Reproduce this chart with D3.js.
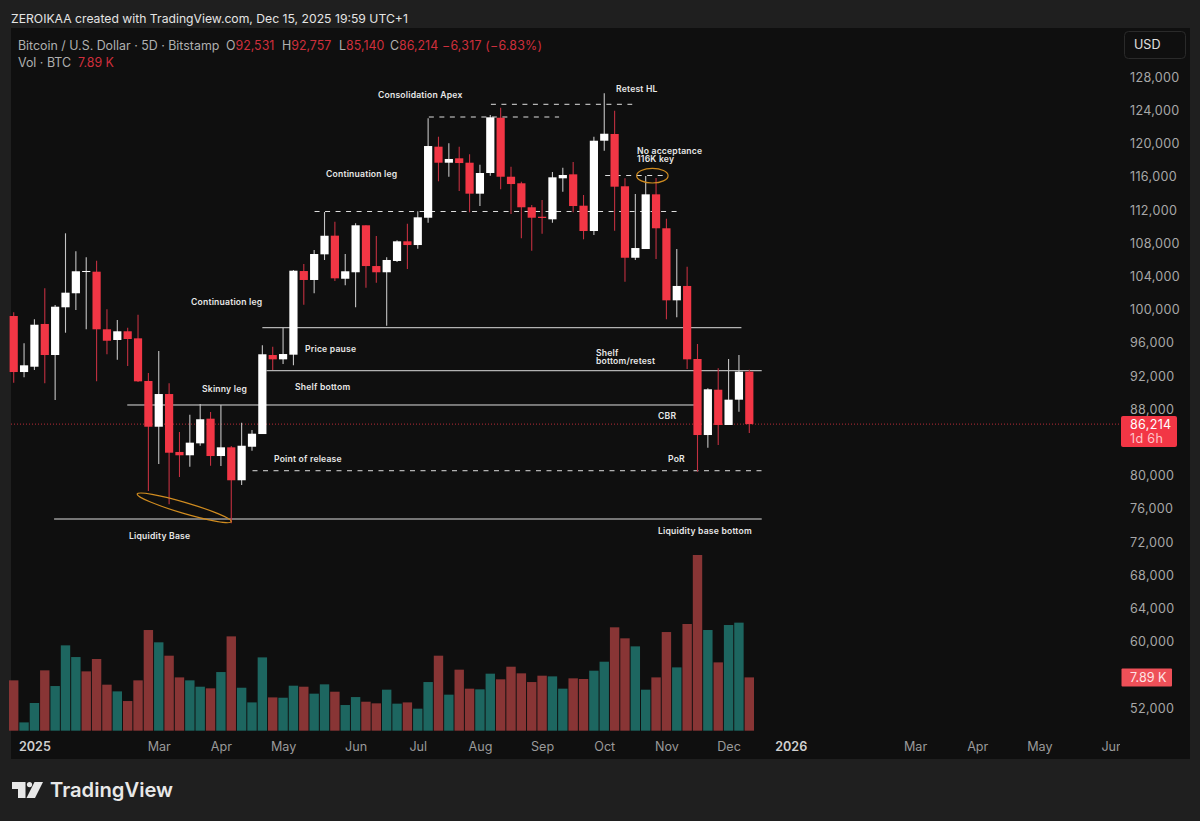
<!DOCTYPE html>
<html>
<head>
<meta charset="utf-8">
<script src="https://cdn.jsdelivr.net/npm/d3@7"></script>
<style>
	html, body {margin: 0; padding: 0; background: #1f1f1f;}
	svg {display: block;}
	text {font-family: Inter, Roboto, "Noto Sans", sans-serif;}
</style>
</head>
<body>
<div id="body"></div>
<script>
//Candles, 5D bars, oldest first
let opens = [99240,92490,93130,98280,94540,100290,101980,104580,104580,97640,96350,97400,96550,91410,85900,89840,82860,82460,83900,86870,82370,83420,79450,83490,85020,94540,94020,94580,104660,103580,106670,108920,103730,104510,110170,105260,104510,105870,108240,107790,111080,119640,117710,118240,117710,113980,116470,123130,116020,115230,112340,111200,110890,115830,116310,112530,109480,120360,121170,114870,106260,107310,113900,109810,101130,102860,94060,84900,90360,86110,89160,92531]
let highs = [99686,95951,98843,102578,100566,109204,107035,106312,105903,100048,98758,97831,99397,92373,95024,91132,85265,87349,88638,87674,88518,83578,86385,85506,95710,95542,97831,104782,105505,107192,111770,110602,106710,110409,110168,108879,106312,108361,110361,111855,123059,120842,120047,119638,118722,117469,123457,124337,117228,115421,112614,113216,116589,117107,117794,113818,120842,126071,123975,115830,113939,116108,115867,110963,107313,105180,95867,90530,92939,94060,94542,92757]
let lows = [91204,91855,92734,91132,89120,97228,99963,97638,91373,94626,93975,93216,91289,78156,81409,76554,79843,81084,83614,81205,81168,74265,78879,83012,85024,92734,93457,93301,100602,101975,105987,103457,102939,100289,102650,103252,98072,105746,104903,107349,110481,115469,116023,114300,111734,112493,116144,114505,111529,108602,107108,109156,110481,114216,111734,108481,108999,119156,109517,103373,105987,107313,106108,98843,99084,92855,80482,83373,83698,86145,87712,85140]
let closes = [92490,93300,98190,94540,100360,102050,104630,104660,97640,96260,97400,96470,91370,85900,89840,82770,82460,83980,86800,82370,83420,79450,83610,85060,94630,94020,94660,104700,103580,106710,108910,103780,104630,110170,105260,104510,105990,108240,107790,111130,119720,117710,118160,117670,113980,116470,123180,116020,115140,112340,111080,111050,115950,116230,112490,109480,120360,121200,114820,106260,107430,113900,109810,101130,102860,94020,84900,90410,86110,89160,92530,86214]

//Volume in thousands of BTC, with the side the bar is coloured by
let volumes = [7.45,1.23,4.10,8.93,6.61,12.63,10.90,8.78,10.61,6.81,5.82,4.39,7.45,14.90,13.08,11.10,7.89,7.45,6.51,6.27,8.68,13.96,6.36,4.19,10.85,4.93,4.88,6.66,6.51,5.48,6.86,5.77,3.80,4.98,4.29,4.05,6.07,4.00,4.19,3.26,7.20,11.10,5.33,9.03,6.22,6.12,8.44,7.60,9.47,8.49,7.20,8.14,8.04,6.22,7.75,7.65,8.88,10.21,15.30,13.67,12.48,6.07,7.89,14.60,9.37,15.79,26.00,14.90,10.11,15.64,15.99,7.89]
let volumeSides = ["d","u","u","d","u","u","u","d","d","d","u","d","d","d","u","d","d","u","u","d","u","d","u","u","u","d","u","u","d","u","u","d","u","u","d","d","u","u","d","u","u","d","u","d","d","u","u","d","d","d","d","d","u","u","d","d","u","u","d","d","u","u","d","d","u","d","d","u","d","u","u","d"]

//Axis ticks
let priceTicks = [52000,60000,64000,68000,72000,76000,80000,88000,92000,96000,100000,104000,108000,112000,116000,120000,124000,128000]
let timeLabels = ["2025","Mar","Apr","May","Jun","Jul","Aug","Sep","Oct","Nov","Dec","2026","Mar","Apr","May","Jun"]
let timeBars = [2,14,20,26,33,39,45,51,57,63,69,75,87,93,99,106]

//Drawn levels: start bar, end bar, price
let levelPrices = [124746,123216,111830,116168,97830,92650,88519,80600,74783]
let levelStarts = [46.06,40.07,29.04,57.09,24,24.4,10.96,23.05,3.9]
let levelEnds = [59.7,52.64,64.15,63.13,70.24,72.2,65.7,72.2,72.2]
let levelDashed = [true,true,true,true,false,false,false,true,false]

//Ellipses: end points as bar, price
let ellipseEnds = [[11.92,77795,21,74459],[60.13,116144,63.16,116144]]
let ellipseThin = [5.5,7.3]

let noteTexts = ["Consolidation Apex","Retest HL","No acceptance","116K key","Continuation leg","Continuation leg","Price pause","Shelf","bottom/retest","Skinny leg","Shelf bottom","CBR","Point of release","PoR","Liquidity Base","Liquidity base bottom"]
let noteX = [378,616,637,637,326,191,305,596,596,202,295,658,274,668,129,658]
let noteY = [98,92,154,162,177,305,352,356,364,392,390,419,462,462,539,534]

let red = "#f23645"
let width = 1200, height = 821

let svg = d3.select("#body").append("svg")
	.attr("width", width)
	.attr("height", height)

//Set ranges
let xscale = d3.scaleLinear().domain([0, 71]).range([13.7, 749.3])
let yscale = d3.scaleLinear().domain([52000, 128000]).range([708.1, 77.3])
let vscale = d3.scaleLinear().domain([0, 26]).range([730.7, 555])

//Panel
svg.append("rect").attr("x", 11).attr("y", 28).attr("width", 1179).attr("height", 731).attr("fill", "#0f0f0f")

//Title
svg.append("text").attr("x", 11).attr("y", 23).attr("fill", "#e4e4e4").attr("font-size", 12.2)
	.text("ZEROIKAA created with TradingView.com, Dec 15, 2025 19:59 UTC+1")

//Last price line
svg.append("line")
	.attr("x1", 11).attr("x2", 1121)
	.attr("y1", yscale(closes[71])).attr("y2", yscale(closes[71]))
	.attr("stroke", red).attr("stroke-opacity", 0.75).attr("stroke-dasharray", "1,2")

//Levels
let lines = svg.append("g").selectAll("line")
	.data(levelPrices)
	.enter()
	.append("line")
	.attr("x1", (d, i) => xscale(levelStarts[i]))
	.attr("x2", (d, i) => xscale(levelEnds[i]))
	.attr("y1", d => yscale(d))
	.attr("y2", d => yscale(d))
	.attr("stroke", "#dedede")
	.attr("stroke-width", 1)
	.attr("stroke-dasharray", (d, i) => levelDashed[i] ? "5,5.5" : null)

//Volume bars
svg.append("g").selectAll("rect")
	.data(volumes)
	.enter()
	.append("rect")
	.attr("x", (d, i) => xscale(i) - 4.7)
	.attr("width", 9.4)
	.attr("y", d => vscale(d))
	.attr("height", d => vscale(0) - vscale(d))
	.attr("fill", (d, i) => volumeSides[i] == "d" ? "#883535" : "#1d6660")

//Wicks
svg.append("g").selectAll("line")
	.data(highs)
	.enter()
	.append("line")
	.attr("x1", (d, i) => xscale(i))
	.attr("x2", (d, i) => xscale(i))
	.attr("y1", d => yscale(d))
	.attr("y2", (d, i) => yscale(lows[i]))
	.attr("stroke-width", 1.1)
	.attr("stroke", (d, i) => closes[i] >= opens[i] ? "#c4c4c4" : "#c23040")

//Candle bodies
svg.append("g").selectAll("rect")
	.data(opens)
	.enter()
	.append("rect")
	.attr("x", (d, i) => xscale(i) - 4.1)
	.attr("width", 8.2)
	.attr("y", (d, i) => yscale(Math.max(d, closes[i])))
	.attr("height", (d, i) => Math.max(1, Math.abs(yscale(d) - yscale(closes[i]))))
	.attr("fill", (d, i) => closes[i] >= d ? "#ffffff" : red)

//Ellipses
ellipseEnds.forEach(function(e, i) {
	let x0 = xscale(e[0]), y0 = yscale(e[1]), x1 = xscale(e[2]), y1 = yscale(e[3])
	let len = Math.hypot(x1 - x0, y1 - y0)
	let angle = Math.atan2(y1 - y0, x1 - x0) * 180 / Math.PI
	svg.append("ellipse")
		.attr("transform", "translate(" + (x0 + x1) / 2 + "," + (y0 + y1) / 2 + ") rotate(" + angle + ")")
		.attr("rx", len / 2)
		.attr("ry", ellipseThin[i])
		.attr("fill", "none")
		.attr("stroke", "#d08c20")
		.attr("stroke-width", 1.2)
})

//Notes
svg.append("g").selectAll("text")
	.data(noteTexts)
	.enter()
	.append("text")
	.attr("x", (d, i) => noteX[i])
	.attr("y", (d, i) => noteY[i])
	.attr("fill", "#e8e8e8")
	.attr("font-size", 8.6)
	.attr("font-weight", 600)
	.attr("letter-spacing", 0.2)
	.text(d => d)

//Time axis
let timeAxis = svg.append("g")
	.attr("transform", "translate(0, 731)")
	.call(d3.axisBottom(xscale).tickValues(timeBars).tickSize(0).tickFormat((d, i) => timeLabels[i]))
timeAxis.select(".domain").remove()
timeAxis.selectAll("text")
	.attr("y", 20)
	.attr("dy", 0)
	.attr("font-size", 12.6)
	.attr("font-family", "Inter, Roboto, sans-serif")
	.attr("fill", "#9a9a9a")
timeAxis.selectAll("text").filter((d, i) => timeLabels[i].length == 4)
	.attr("fill", "#cfcfcf")
	.attr("font-weight", 600)

//Price scale covers the labels that run past the plot
svg.append("rect").attr("x", 1120).attr("y", 731).attr("width", 70).attr("height", 28).attr("fill", "#0f0f0f")

let priceAxis = svg.append("g")
	.attr("transform", "translate(1130, 0)")
	.call(d3.axisRight(yscale).tickValues(priceTicks).tickSize(0).tickFormat(d3.format(",")))
priceAxis.select(".domain").remove()
priceAxis.selectAll("text")
	.attr("x", 0)
	.attr("font-size", 12.6)
	.attr("letter-spacing", 0.3)
	.attr("font-family", "Inter, Roboto, sans-serif")
	.attr("fill", "#a8a8a8")

//USD button
svg.append("rect").attr("x", 1124.5).attr("y", 31.5).attr("width", 61).attr("height", 27).attr("rx", 4)
	.attr("fill", "#0f0f0f").attr("stroke", "#2a2a2a")
svg.append("text").attr("x", 1134).attr("y", 49).attr("fill", "#e0e0e0").attr("font-size", 12.6).text("USD")

//Last price tag
svg.append("rect").attr("x", 1121).attr("y", 416).attr("width", 56).attr("height", 31).attr("rx", 2).attr("fill", red)
svg.append("text").attr("x", 1130).attr("y", 429).attr("fill", "#ffffff").attr("font-size", 12.6).attr("letter-spacing", 0.3).text(d3.format(",")(closes[71]))
svg.append("text").attr("x", 1130).attr("y", 443).attr("fill", "#ffc4c9").attr("font-size", 12.6).attr("letter-spacing", 0.3).text("1d 6h")

//Volume tag
svg.append("rect").attr("x", 1121.5).attr("y", 668.5).attr("width", 50.5).attr("height", 18).attr("rx", 1).attr("fill", "#ee5058")
svg.append("text").attr("x", 1130).attr("y", 682).attr("fill", "#ffe4e6").attr("font-size", 12.6).text("7.89 K")

//Legend
let legend1 = svg.append("text").attr("x", 18).attr("y", 50).attr("font-size", 12.4).attr("fill", "#b0b0b0")
legend1.append("tspan").text("Bitcoin / U.S. Dollar · 5D · Bitstamp")
let ohlc = [["O", d3.format(",")(opens[71]), 226], ["H", d3.format(",")(highs[71]), 282], ["L", d3.format(",")(lows[71]), 339], ["C", d3.format(",")(closes[71]), 390]]
ohlc.forEach(function(d) {
	let t = svg.append("text").attr("x", d[2]).attr("y", 50).attr("font-size", 12.4).attr("fill", "#b0b0b0").text(d[0])
	t.append("tspan").attr("fill", red).attr("fill-opacity", 0.85).text(d[1])
})
svg.append("text").attr("x", 442).attr("y", 50).attr("font-size", 12.4).attr("letter-spacing", 0.2).attr("fill", red).attr("fill-opacity", 0.85).text("−6,317 (−6.83%)")
svg.append("text").attr("x", 18).attr("y", 67).attr("font-size", 12.4).attr("fill", "#b0b0b0").text("Vol · BTC")
svg.append("text").attr("x", 78).attr("y", 67).attr("font-size", 12.4).attr("fill", red).attr("fill-opacity", 0.85).text("7.89 K")

//TradingView logo
let logo = svg.append("g").attr("transform", "translate(12, 782)").attr("fill", "#e8e8e8")
logo.append("path").attr("d", "M0 0H13.5V16H6V7H0Z")
logo.append("circle").attr("cx", 17.5).attr("cy", 2.6).attr("r", 2.6)
logo.append("path").attr("d", "M22.5 0H31L23 16H14.5Z")
svg.append("text").attr("x", 50).attr("y", 797).attr("fill", "#e8e8e8").attr("font-size", 20.2).attr("font-weight", 600).text("TradingView")
</script>
</body>
</html>
